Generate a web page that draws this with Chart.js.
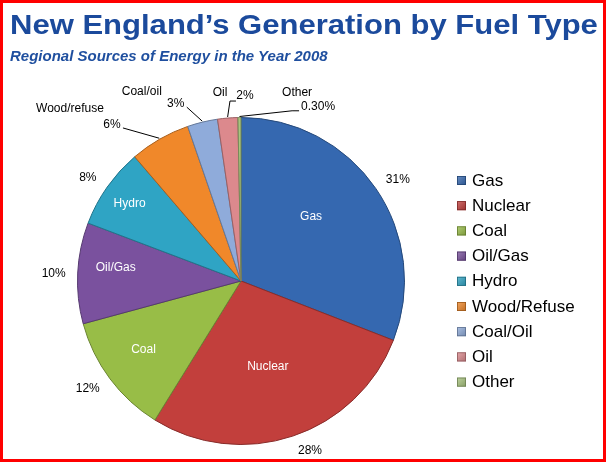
<!DOCTYPE html>
<html><head><meta charset="utf-8">
<script src="https://cdn.jsdelivr.net/npm/chart.js@4.4.1/dist/chart.umd.min.js"></script>
<style>
html,body{margin:0;padding:0;background:#fff;}
#wrap{position:relative;width:606px;height:462px;overflow:hidden;background:#fff;}
#frame{position:absolute;left:0;top:0;width:606px;height:462px;box-sizing:border-box;border:3px solid #ff0000;pointer-events:none;}
#title{position:absolute;left:10px;top:11px;font-family:"Liberation Sans",Arial,sans-serif;font-weight:bold;font-size:28px;line-height:28px;color:#1b4a9c;white-space:nowrap;transform-origin:0 0;transform:scaleX(1.108);}
#subtitle{position:absolute;left:10px;top:48px;font-family:"Liberation Sans",Arial,sans-serif;font-weight:bold;font-style:italic;font-size:15px;line-height:15px;color:#1f4f9f;white-space:nowrap;}
#c{position:absolute;left:0;top:0;}
</style></head>
<body><div id="wrap"><canvas id="c" width="606" height="462"></canvas><div id="title">New England’s Generation by Fuel Type</div><div id="subtitle">Regional Sources of Energy in the Year 2008</div><div id="frame"></div></div>
<script>
// ---- data ----
const categories = ["Gas","Nuclear","Coal","Oil/Gas","Hydro","Wood/Refuse","Coal/Oil","Oil","Other"];
const sliceNames = ["Gas","Nuclear","Coal","Oil/Gas","Hydro","Wood/refuse","Coal/oil","Oil","Other"];
const shares = [31,28,12,10,8,6,3,2,0.3];
const shareLabels = ["31%","28%","12%","10%","8%","6%","3%","2%","0.30%"];
const colors = ["#3568b0","#c23f3c","#98bd47","#7a519e","#2fa4c4","#f0882a","#8fabda","#dc898d","#a8c47e"];

// ---- label layout (relative to each slice's geometry) ----
const pctShift = [1.6,-3.6,1.5,-0.4,-1.2,-9.8,-6.6,5.9,24.4];   // deg from slice middle
const pctGap = [23,20,24,24,21,39,25,21.5,27];                 // px beyond rim
const insideFrac = [0.58,0.55,0.73,0.77,0.83,0,0,0,0];
const insideShift = [-8,1.1,1.5,3.1,-0.3,0,0,0,0];
const nameOffset = [null,null,null,null,null,[-42,-16],[-34,-12],[-25,-3],[-21,-14]];
const leaders = [null,null,null,null,null,[[11,3]],[[11,3]],[[-15,5],[-9,5]],[[-26,4],[-19,4]]];

function shade(hex, f){
  const n=parseInt(hex.slice(1),16);
  let r=(n>>16)&255,g=(n>>8)&255,b=n&255;
  if(f<0){r*=1+f;g*=1+f;b*=1+f;} else {r+=(255-r)*f;g+=(255-g)*f;b+=(255-b)*f;}
  return 'rgb('+Math.round(r)+','+Math.round(g)+','+Math.round(b)+')';
}

const FONT='"Liberation Sans", Arial, sans-serif';

const labelPlugin={
  id:'sliceLabels',
  afterDatasetsDraw(chart){
    const ctx=chart.ctx;
    const meta=chart.getDatasetMeta(0);
    ctx.save();
    ctx.font='12px '+FONT;
    ctx.textAlign='center';
    ctx.textBaseline='middle';
    meta.data.forEach((arc,i)=>{
      const p=arc.getProps(['x','y','startAngle','endAngle','outerRadius'],true);
      const mid=(p.startAngle+p.endAngle)/2;
      const a=mid+pctShift[i]*Math.PI/180;
      const R=p.outerRadius+pctGap[i];
      const lx=p.x+Math.cos(a)*R, ly=p.y+Math.sin(a)*R;
      if(leaders[i]){
        ctx.strokeStyle='#000';ctx.lineWidth=1;
        ctx.beginPath();
        ctx.moveTo(p.x+Math.cos(mid)*(p.outerRadius+1),p.y+Math.sin(mid)*(p.outerRadius+1));
        leaders[i].forEach(o=>ctx.lineTo(lx+o[0],ly+o[1]));
        ctx.stroke();
      }
      ctx.fillStyle='#000';
      ctx.fillText(shareLabels[i],lx,ly);
      if(insideFrac[i]>0){
        const b=mid+insideShift[i]*Math.PI/180;
        const r2=p.outerRadius*insideFrac[i];
        ctx.fillStyle='#fff';
        ctx.fillText(sliceNames[i],p.x+Math.cos(b)*r2,p.y+Math.sin(b)*r2);
      } else if(nameOffset[i]){
        ctx.fillStyle='#000';
        ctx.fillText(sliceNames[i],lx+nameOffset[i][0],ly+nameOffset[i][1]);
      }
    });
    ctx.restore();
  }
};

const legendPlugin={
  id:'sideLegend',
  afterDraw(chart){
    const ctx=chart.ctx;
    const labels=chart.data.labels;
    ctx.save();
    ctx.font='17px '+FONT;
    ctx.textAlign='left';
    ctx.textBaseline='middle';
    labels.forEach((t,i)=>{
      const y=180.5+25.2*i;
      const c=colors[i];
      const g=ctx.createLinearGradient(457,y-4.5,466,y+4.5);
      g.addColorStop(0,shade(c,0.25));g.addColorStop(1,shade(c,-0.2));
      ctx.fillStyle=g;
      ctx.fillRect(457,y-4.5,9,9);
      ctx.strokeStyle=shade(c,-0.35);ctx.lineWidth=0.8;
      ctx.strokeRect(457.4,y-4.1,8.2,8.2);
      ctx.fillStyle='#000';
      ctx.fillText(t,472,y+0.5);
    });
    ctx.restore();
  }
};

new Chart(document.getElementById('c'),{
  type:'pie',
  data:{
    labels:categories,
    datasets:[{
      data:shares,
      backgroundColor(ctx){
        const chart=ctx.chart;const c=colors[ctx.dataIndex];
        const el=ctx.element;
        if(!chart.chartArea||!el||!el.outerRadius) return c;
        const x=el.x,y=el.y,r=el.outerRadius;
        const g=chart.ctx.createRadialGradient(x,y,0,x,y,r);
        g.addColorStop(0,c);g.addColorStop(0.9,c);g.addColorStop(1,shade(c,-0.18));
        return g;
      },
      borderColor:colors.map(c=>shade(c,-0.3)),
      borderWidth:1
    }]
  },
  options:{
    responsive:false,
    animation:false,
    layout:{padding:{left:77,top:117,right:201,bottom:17}},
    plugins:{legend:{display:false},tooltip:{enabled:false},title:{display:false}},
  },
  plugins:[labelPlugin,legendPlugin]
});
</script>
</body></html>
